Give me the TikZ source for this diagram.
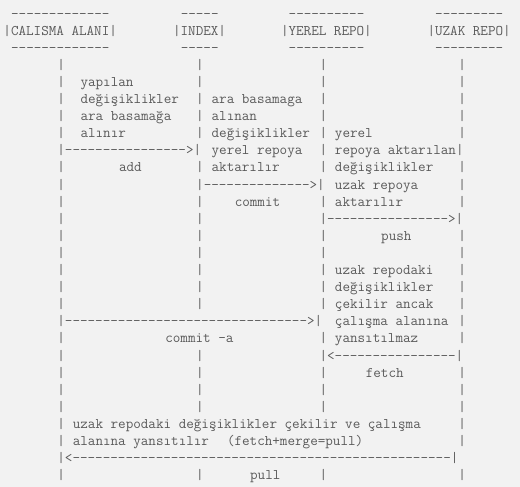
\documentclass[tikz,border=0pt]{standalone}
\usepackage{fontspec}
\definecolor{bg}{HTML}{F2F2F2}
\definecolor{ink}{HTML}{5A5A5A}
\tikzset{
  seg/.style={anchor=base west, inner sep=0pt, outer sep=0pt, text=ink,
    font=\ttfamily\fontsize{14.69}{17}\selectfont},
}
\newcommand\sg[3]{\node[seg] (s#1-#2) at ({3.45+#2*7.71},{468.9-#1*17.1}) {#3};}
\newcommand\pp[1]{\sg{#1}{7}{|}\sg{#1}{25}{|}\sg{#1}{41}{|}\sg{#1}{59}{|}}
\begin{document}
\begin{tikzpicture}[x=1pt,y=1pt]
\fill[bg] (0,0) rectangle (520,487);
\useasboundingbox (0,0) rectangle (520,487);
% header
\sg{0}{1}{-------------}\sg{0}{23}{-----}\sg{0}{37}{----------}\sg{0}{56}{---------}
\sg{1}{0}{|CALISMA ALANI|}\sg{1}{22}{|INDEX|}\sg{1}{36}{|YEREL REPO|}\sg{1}{55}{|UZAK REPO|}
\sg{2}{1}{-------------}\sg{2}{23}{-----}\sg{2}{37}{----------}\sg{2}{56}{---------}
% body
\pp{3}
\sg{4}{7}{|}\sg{4}{10}{yapılan}\sg{4}{25}{|}\sg{4}{41}{|}\sg{4}{59}{|}
\sg{5}{7}{|}\sg{5}{10}{değişiklikler}\sg{5}{25}{|}\sg{5}{27}{ara basamaga}\sg{5}{41}{|}\sg{5}{59}{|}
\sg{6}{7}{|}\sg{6}{10}{ara basamağa}\sg{6}{25}{|}\sg{6}{27}{alınan}\sg{6}{41}{|}\sg{6}{59}{|}
\sg{7}{7}{|}\sg{7}{10}{alınır}\sg{7}{25}{|}\sg{7}{27}{değişiklikler}\sg{7}{41}{|}\sg{7}{43}{yerel}\sg{7}{59}{|}
\sg{8}{7}{|---------------->|}\sg{8}{27}{yerel repoya}\sg{8}{41}{|}\sg{8}{43}{repoya aktarılan|}
\sg{9}{7}{|}\sg{9}{15}{add}\sg{9}{25}{|}\sg{9}{27}{aktarılır}\sg{9}{41}{|}\sg{9}{43}{değişiklikler}\sg{9}{59}{|}
\sg{10}{7}{|}\sg{10}{25}{|-------------->|}\sg{10}{43}{uzak repoya}\sg{10}{59}{|}
\sg{11}{7}{|}\sg{11}{25}{|}\sg{11}{30}{commit}\sg{11}{41}{|}\sg{11}{43}{aktarılır}\sg{11}{59}{|}
\sg{12}{7}{|}\sg{12}{25}{|}\sg{12}{41}{|---------------->|}
\sg{13}{7}{|}\sg{13}{25}{|}\sg{13}{41}{|}\sg{13}{49}{push}\sg{13}{59}{|}
\pp{14}
\sg{15}{7}{|}\sg{15}{25}{|}\sg{15}{41}{|}\sg{15}{43}{uzak repodaki}\sg{15}{59}{|}
\sg{16}{7}{|}\sg{16}{25}{|}\sg{16}{41}{|}\sg{16}{43}{değişiklikler}\sg{16}{59}{|}
\sg{17}{7}{|}\sg{17}{25}{|}\sg{17}{41}{|}\sg{17}{43}{çekilir ancak}\sg{17}{59}{|}
\sg{18}{7}{|-------------------------------->|}\sg{18}{43}{çalışma alanına}\sg{18}{59}{|}
\sg{19}{7}{|}\sg{19}{21}{commit -a}\sg{19}{41}{|}\sg{19}{43}{yansıtılmaz}\sg{19}{59}{|}
\sg{20}{7}{|}\sg{20}{25}{|}\sg{20}{41}{|<----------------|}
\sg{21}{7}{|}\sg{21}{25}{|}\sg{21}{41}{|}\sg{21}{47}{fetch}\sg{21}{59}{|}
\pp{22}
\pp{23}
\sg{24}{7}{|}\sg{24}{9}{uzak repodaki değişiklikler çekilir ve çalışma}\sg{24}{59}{|}
\sg{25}{7}{|}\sg{25}{9}{alanına yansıtılır}\sg{25}{29}{(fetch+merge=pull)}\sg{25}{59}{|}
\sg{26}{7}{|<--------------------------------------------------|}
\sg{27}{7}{|}\sg{27}{25}{|}\sg{27}{32}{pull}\sg{27}{41}{|}\sg{27}{59}{|}
\end{tikzpicture}
\end{document}
